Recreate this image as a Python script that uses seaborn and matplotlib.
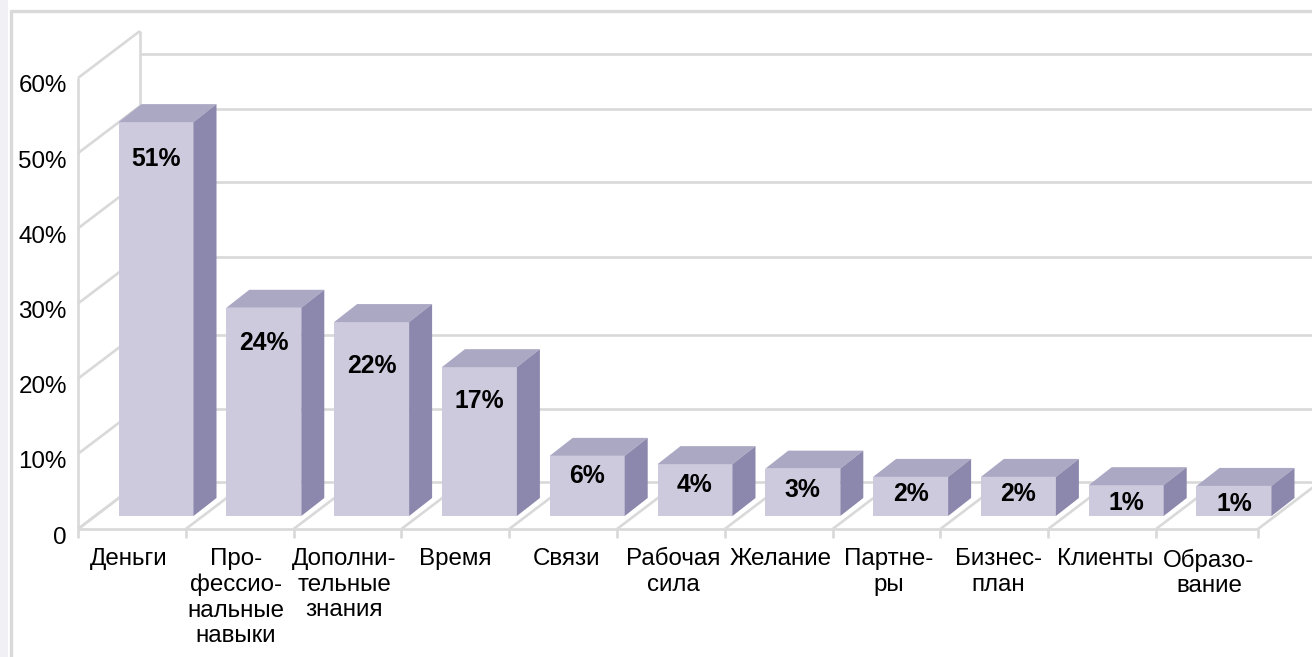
#!/usr/bin/env python3

import numpy as np
import pandas as pd
import seaborn as sns
import matplotlib.pyplot as plt
from matplotlib.lines import Line2D
from matplotlib.patches import Rectangle
from matplotlib.transforms import ScaledTranslation

categories = [
    "Деньги",
    "Про-\nфессио-\nнальные\nнавыки",
    "Дополни-\nтельные\nзнания",
    "Время",
    "Связи",
    "Рабочая\nсила",
    "Желание",
    "Партне-\nры",
    "Бизнес-\nплан",
    "Клиенты",
    "Образо-\nвание",
]
value_labels = ["51%", "24%", "22%", "17%", "6%", "4%", "3%", "2%", "2%", "1%", "1%"]
# bar heights as drawn in the picture, they do not quite follow the printed labels
bar_heights = [52.4, 27.7, 25.8, 19.8, 8.0, 6.9, 6.3, 5.2, 5.2, 4.1, 4.0]
y_ticks = [0, 10, 20, 30, 40, 50, 60]
y_tick_labels = ["0", "10%", "20%", "30%", "40%", "50%", "60%"]
back_levels = [0, 9.7, 19.5, 30, 39.9, 49.6, 57]

W, H = 1312, 657
GRID = "#d9d9d9"
FRONT = "#cdcadd"
TOP = "#aba8c4"
SIDE = "#8c87ac"

PX_X = 107.8  # pixels per category
PX_Y = (529 - 78) / 60  # pixels per percent
FIRST_BAR = 156 - 78  # centre of first bar from the y axis, pixels
WALL_DX, WALL_DY = 62 / PX_X, 47 / PX_Y
BAR_DX, BAR_DY = 23 / PX_X, 18 / PX_Y
BAR_BASE = 13 / PX_Y

# small text shifts, pixels
x_label_nudge = [0, -1, 0, 3, 6, 5, 5, 5, 7, 6, 2]
value_label_drop = [37, 35, 44, 34, 20, 21, 21, 17, 17, 18, 18]

sns.set_theme(style="white")
plt.rcParams["font.family"] = ["Liberation Sans", "DejaVu Sans"]

fig = plt.figure(figsize=(W / 100, H / 100), dpi=100)
fig.add_artist(Rectangle((0, 0), 8 / W, 1, transform=fig.transFigure,
                         color="#f1f1f5", lw=0))
fig.add_artist(Line2D([10.5 / W, 10.5 / W, 1], [0, 1 - 11 / H, 1 - 11 / H],
                      transform=fig.transFigure, color=GRID, lw=2.4))

ax = fig.add_axes([78 / W, (H - 529) / H, (W - 78) / W, (529 - 78) / H])
ax.patch.set_alpha(0)

df = pd.DataFrame({"category": categories, "height": bar_heights})
sns.barplot(data=df, x="category", y="height", ax=ax, color=FRONT, saturation=1,
            width=75 / PX_X, bottom=BAR_BASE, linewidth=0, zorder=3)

ax.set_xlim(-FIRST_BAR / PX_X, (W - 78 - FIRST_BAR) / PX_X)
ax.set_ylim(0, 60)
ax.set_xlabel("")
ax.set_ylabel("")

# slot edges on the floor, the last slot is a bit narrower
slot_edges = list(np.arange(11) - FIRST_BAR / PX_X) + [(1258 - 78 - FIRST_BAR) / PX_X]
x0, x_end = slot_edges[0], slot_edges[-1]
far_right = ax.get_xlim()[1] + 1


def wall_line(xs, ys):
    ax.plot(xs, ys, color=GRID, lw=1.9, clip_on=False, zorder=1,
            solid_capstyle="butt", solid_joinstyle="miter")


# left wall and the slanted part of the grid
for v in y_ticks:
    wall_line([x0, x0 + WALL_DX], [v, v + WALL_DY])
wall_line([x0 + WALL_DX, x0 + WALL_DX], [WALL_DY, 60 + WALL_DY])
wall_line([x0, x0], [0, 60])

# back wall
for v in back_levels:
    wall_line([x0 + WALL_DX, far_right], [v + WALL_DY, v + WALL_DY])

# floor
wall_line([x0, x_end], [0, 0])
for e in slot_edges:
    wall_line([e, e + WALL_DX], [0, WALL_DY])

# top and side faces from the bars seaborn drew
for bar, label, drop in zip(ax.patches, value_labels, value_label_drop):
    left, right = bar.get_x(), bar.get_x() + bar.get_width()
    low, high = bar.get_y(), bar.get_y() + bar.get_height()
    ax.fill([left, right, right + BAR_DX, left + BAR_DX],
            [high, high, high + BAR_DY, high + BAR_DY],
            color=TOP, lw=0, clip_on=False, zorder=3)
    ax.fill([right, right + BAR_DX, right + BAR_DX, right],
            [low, low + BAR_DY, high + BAR_DY, high],
            color=SIDE, lw=0, clip_on=False, zorder=3)
    ax.annotate(label, ((left + right) / 2, high), xytext=(0, -drop * 0.72),
                textcoords="offset points", ha="center", va="center",
                fontsize=17.8, fontweight="bold", color="black", zorder=4)

sns.despine(ax=ax, left=True, bottom=True, right=True, top=True)

ax.set_yticks(y_ticks, y_tick_labels)
ax.set_xticks(range(len(categories)), categories)
ax.set_xticks(slot_edges, minor=True)
ax.tick_params(axis="y", length=0, pad=8, labelsize=17.4, labelcolor="black")
ax.tick_params(axis="x", which="major", length=0, pad=14, labelsize=17.4,
               labelcolor="black")
ax.tick_params(axis="x", which="minor", length=6.5, width=1.9, color=GRID,
               bottom=True)

# labels sit under the front of each slot, not under the bar
for lab, nudge in zip(ax.get_xticklabels(), x_label_nudge):
    lab.set_transform(lab.get_transform()
                      + ScaledTranslation((nudge - 27) / 100, 0, fig.dpi_scale_trans))
for lab in ax.get_yticklabels():
    lab.set_transform(lab.get_transform()
                      + ScaledTranslation(0, -6 / 100, fig.dpi_scale_trans))

fig.savefig("out.png", dpi=100)
plt.close(fig)
